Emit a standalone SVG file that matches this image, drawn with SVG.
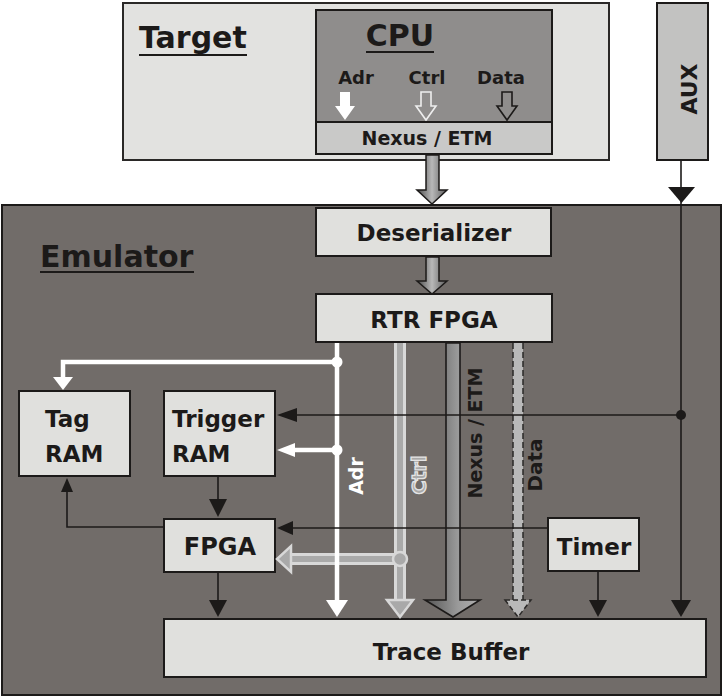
<svg xmlns="http://www.w3.org/2000/svg" width="724" height="697" viewBox="0 0 724 697">
<style>
text{font-family:"DejaVu Sans","Liberation Sans",sans-serif;font-weight:bold;fill:#1c1a19}
.box{fill:#e0e0dd;stroke:#1c1a19;stroke-width:2}
.ln{stroke:#1c1a19;stroke-width:1.6;fill:none}
.hd{fill:#1c1a19}
.big{font-size:30px}
.mid{font-size:23px}
.sm{font-size:18px}
.ul{stroke:#1c1a19;stroke-width:2}
</style>
<defs>
<linearGradient id="gArrow" x1="0" y1="0" x2="1" y2="0">
<stop offset="0" stop-color="#4a4a4a"/>
<stop offset="0.5" stop-color="#b8b8b8"/>
<stop offset="1" stop-color="#5a5a5a"/>
</linearGradient>
<linearGradient id="gBus" x1="0" y1="0" x2="1" y2="0">
<stop offset="0" stop-color="#555"/>
<stop offset="0.6" stop-color="#9a9a9a"/>
<stop offset="1" stop-color="#b0b0b0"/>
</linearGradient>
</defs>
<rect width="724" height="697" fill="#fff"/>

<g id="target">
<rect x="123" y="3" width="486" height="157" fill="#e2e2e0" stroke="#2a2827" stroke-width="2"/>
<text class="big" x="139" y="48">Target</text>
<line class="ul" x1="139" y1="55" x2="247" y2="55"/>
</g>

<g id="cpu">
<rect x="316" y="10" width="236" height="112" fill="#8f8d8c" stroke="#1c1a19" stroke-width="2"/>
<text class="big" x="400" y="46" text-anchor="middle">CPU</text>
<line class="ul" x1="366" y1="52" x2="434" y2="52"/>
<text class="sm" x="356" y="84" text-anchor="middle">Adr</text>
<text class="sm" x="427" y="84" text-anchor="middle">Ctrl</text>
<text class="sm" x="501" y="84" text-anchor="middle">Data</text>
<path d="M340,92 h10 v14 h5 l-10,14 l-10,-14 h5 z" fill="#fff"/>
<path d="M421,92 h10 v14 h5 l-10,14 l-10,-14 h5 z" fill="none" stroke="#eee" stroke-width="1.6"/>
<path d="M502,92 h10 v14 h5 l-10,14 l-10,-14 h5 z" fill="none" stroke="#1c1a19" stroke-width="1.6"/>
</g>

<g id="nexus">
<rect x="316" y="122" width="236" height="32" fill="#c9c9c8" stroke="#1c1a19" stroke-width="2"/>
<text x="427" y="145" text-anchor="middle" style="font-size:19px">Nexus / ETM</text>
</g>

<g id="aux">
<rect x="657" y="3" width="51" height="157" fill="#c2c2c1" stroke="#1c1a19" stroke-width="2"/>
<text transform="translate(697,89) rotate(-90)" text-anchor="middle" style="font-size:22px">AUX</text>
</g>

<g id="emulator">
<rect x="2" y="205" width="719" height="490" fill="#716c69" stroke="#1c1a19" stroke-width="2"/>
<text class="big" x="40" y="267">Emulator</text>
<line class="ul" x1="40" y1="272" x2="194" y2="272"/>
</g>

<g id="deserializer">
<rect class="box" x="316" y="208" width="235" height="48"/>
<text class="mid" x="434" y="241" text-anchor="middle">Deserializer</text>
</g>

<g id="rtr-fpga">
<rect class="box" x="316" y="294" width="236" height="48"/>
<text class="mid" x="434" y="328" text-anchor="middle">RTR FPGA</text>
</g>

<g id="tag-ram">
<rect class="box" x="19" y="391" width="111" height="85"/>
<text class="mid" x="45" y="427">Tag</text>
<text class="mid" x="45" y="462">RAM</text>
</g>

<g id="trigger-ram">
<rect class="box" x="164" y="391" width="111" height="85"/>
<text class="mid" x="172" y="427">Trigger</text>
<text class="mid" x="172" y="462">RAM</text>
</g>

<g id="fpga">
<rect class="box" x="164" y="519" width="111" height="53"/>
<text x="220" y="555" text-anchor="middle" style="font-size:24px">FPGA</text>
</g>

<g id="timer">
<rect class="box" x="548" y="518" width="91" height="53"/>
<text class="mid" x="594" y="555" text-anchor="middle">Timer</text>
</g>

<g id="trace-buffer">
<rect class="box" x="164" y="619" width="542" height="58"/>
<text class="mid" x="451" y="660" text-anchor="middle">Trace Buffer</text>
</g>

<g id="connectors">
<!-- Nexus to Deserializer -->
<path d="M426,155 h13 v35 h8 l-15,14 l-15,-14 h9 z" fill="url(#gArrow)" stroke="#1c1a19" stroke-width="1.5"/>
<!-- Deserializer to RTR -->
<path d="M426,257 h13 v24 h8 l-15,13 l-15,-13 h9 z" fill="url(#gArrow)" stroke="#1c1a19" stroke-width="1.5"/>

<!-- Nexus/ETM bus -->
<path d="M446,343 h14 v257 h20 l-27,17 l-28,-17 h21 z" fill="url(#gBus)" stroke="#1c1a19" stroke-width="1.6"/>
<text transform="translate(482,433) rotate(-90)" text-anchor="middle" style="font-size:19px">Nexus / ETM</text>

<!-- Data bus -->
<rect x="513" y="343" width="10" height="257" fill="#b9b9b9"/>
<line x1="513" y1="343" x2="513" y2="600" stroke="#2a2827" stroke-width="1.5" stroke-dasharray="6,3"/>
<line x1="523" y1="343" x2="523" y2="600" stroke="#2a2827" stroke-width="1.5" stroke-dasharray="6,3"/>
<path d="M505,600 h26 l-13,17 z" fill="#b9b9b9" stroke="#2a2827" stroke-width="1.5" stroke-dasharray="5,3"/>
<text transform="translate(542,465) rotate(-90)" text-anchor="middle" style="font-size:20px">Data</text>

<!-- Ctrl bus -->
<line x1="400" y1="343" x2="400" y2="600" stroke="#d8d8d8" stroke-width="12"/>
<line x1="400" y1="343" x2="400" y2="602" stroke="#a9a9a9" stroke-width="6"/>
<line x1="400" y1="559" x2="290" y2="559" stroke="#d8d8d8" stroke-width="12"/>
<line x1="400" y1="559" x2="288" y2="559" stroke="#a9a9a9" stroke-width="6"/>
<path d="M291,546 v26 l-14,-13 z" fill="#a9a9a9" stroke="#d8d8d8" stroke-width="2.5"/>
<circle cx="400" cy="559" r="7" fill="#a9a9a9" stroke="#d8d8d8" stroke-width="2.5"/>
<path d="M387,600 h26 l-13,17 z" fill="#a9a9a9" stroke="#d8d8d8" stroke-width="2.5"/>
<text transform="translate(426,475) rotate(-90)" text-anchor="middle" style="font-size:19px;fill:#a9a9a9;stroke:#e4e4e4;stroke-width:1.3">Ctrl</text>

<!-- Adr bus -->
<line x1="337" y1="343" x2="337" y2="602" stroke="#fff" stroke-width="4.5"/>
<path d="M326,600 h22 l-11,17 z" fill="#fff"/>
<polyline points="337,362 63,362 63,380" fill="none" stroke="#fff" stroke-width="4.5"/>
<path d="M53,377 h20 l-10,13 z" fill="#fff"/>
<circle cx="337" cy="362" r="5.5" fill="#fff"/>
<line x1="337" y1="450" x2="292" y2="450" stroke="#fff" stroke-width="4.5"/>
<path d="M295,443 v14 l-18,-7 z" fill="#fff"/>
<circle cx="337" cy="450" r="5.5" fill="#fff"/>
<text transform="translate(363,476) rotate(-90)" text-anchor="middle" style="font-size:19px;fill:#fff">Adr</text>

<!-- AUX line -->
<line class="ln" x1="681" y1="160" x2="681" y2="602"/>
<path class="hd" d="M668,187 h27 l-13.5,16 z"/>
<path class="hd" d="M671,600 h20 l-10,17 z"/>
<line class="ln" x1="681" y1="415" x2="292" y2="415"/>
<path class="hd" d="M297,408 v14 l-20,-7 z"/>
<circle cx="681" cy="415" r="5" fill="#1c1a19"/>

<!-- Timer line to FPGA -->
<line class="ln" x1="548" y1="528" x2="290" y2="528"/>
<path class="hd" d="M293,521 v14 l-16,-7 z"/>

<!-- Timer to Trace Buffer -->
<line class="ln" x1="598" y1="571" x2="598" y2="602"/>
<path class="hd" d="M589,600 h18 l-9,17 z"/>

<!-- Trigger RAM to FPGA -->
<line class="ln" x1="218" y1="476" x2="218" y2="500"/>
<path class="hd" d="M209,499 h18 l-9,18 z"/>

<!-- FPGA to Tag RAM -->
<polyline class="ln" points="164,527 67,527 67,490"/>
<path class="hd" d="M61,492 h12 l-6,-14 z"/>

<!-- FPGA to Trace Buffer -->
<line class="ln" x1="218" y1="572" x2="218" y2="602"/>
<path class="hd" d="M209,600 h18 l-9,17 z"/>
</g>
</svg>
